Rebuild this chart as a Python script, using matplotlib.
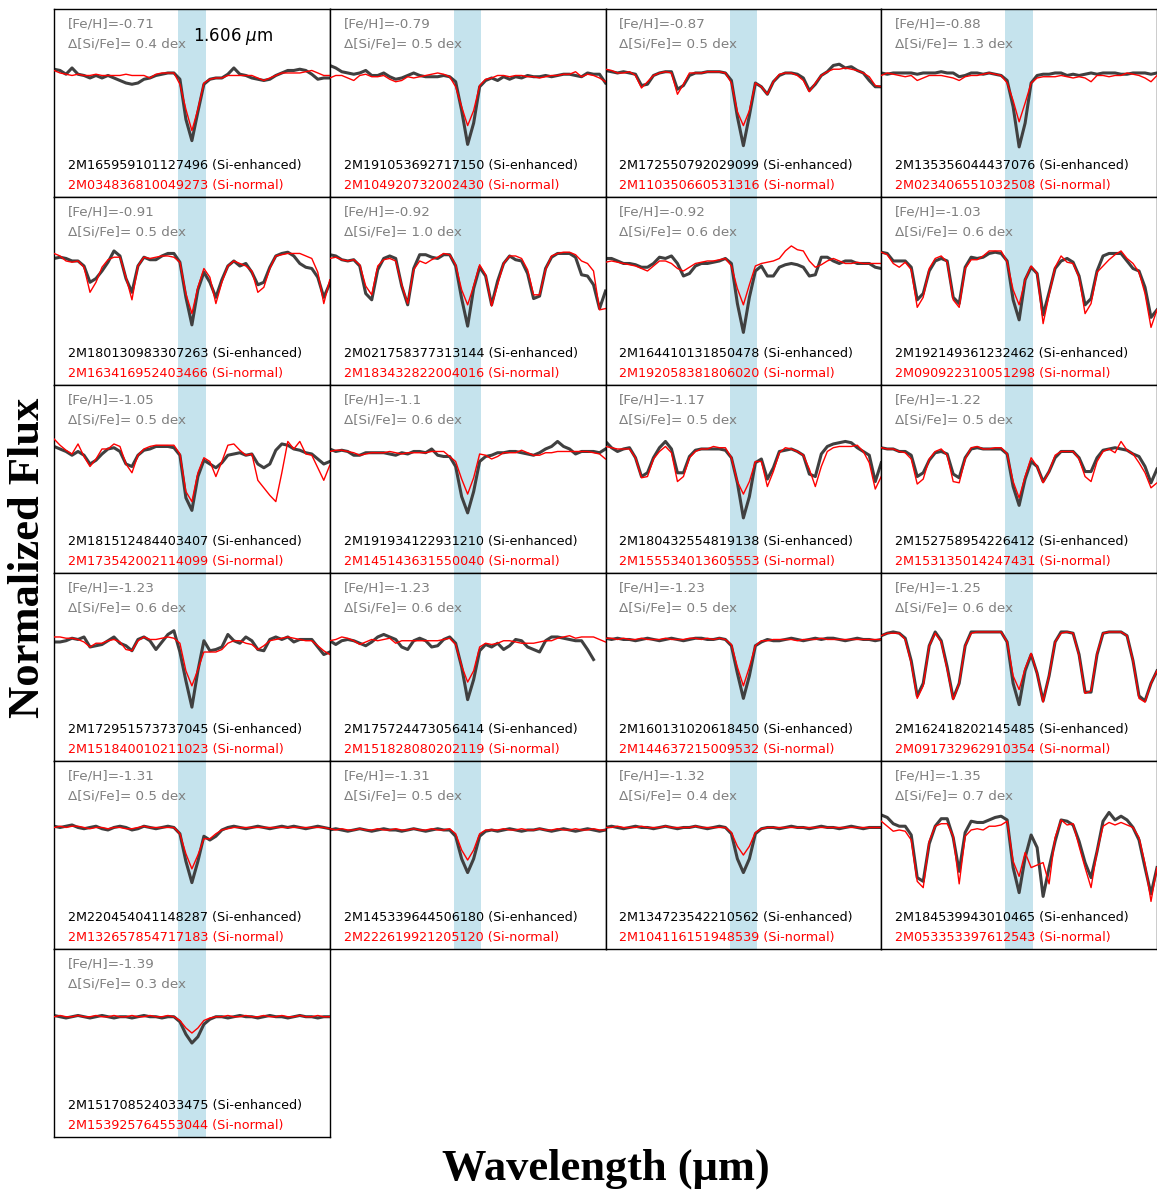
import numpy as np
import matplotlib
matplotlib.use('Agg')
import matplotlib.pyplot as plt

nan = np.nan

# wavelength grid (Angstrom) around the Si I 1.606 um line
wave = np.linspace(16040.0, 16080.0, 47)
si_band = (16058.0, 16062.0)

feh = ['-0.71', '-0.79', '-0.87', '-0.88',
       '-0.91', '-0.92', '-0.92', '-1.03',
       '-1.05', '-1.1', '-1.17', '-1.22',
       '-1.23', '-1.23', '-1.23', '-1.25',
       '-1.31', '-1.31', '-1.32', '-1.35',
       '-1.39']
dsife = ['0.4', '0.5', '0.5', '1.3',
         '0.5', '1.0', '0.6', '0.6',
         '0.5', '0.6', '0.5', '0.5',
         '0.6', '0.6', '0.5', '0.6',
         '0.5', '0.5', '0.4', '0.7',
         '0.3']
enh_ids = ['2M165959101127496', '2M191053692717150', '2M172550792029099', '2M135356044437076',
           '2M180130983307263', '2M021758377313144', '2M164410131850478', '2M192149361232462',
           '2M181512484403407', '2M191934122931210', '2M180432554819138', '2M152758954226412',
           '2M172951573737045', '2M175724473056414', '2M160131020618450', '2M162418202145485',
           '2M220454041148287', '2M145339644506180', '2M134723542210562', '2M184539943010465',
           '2M151708524033475']
norm_ids = ['2M034836810049273', '2M104920732002430', '2M110350660531316', '2M023406551032508',
            '2M163416952403466', '2M183432822004016', '2M192058381806020', '2M090922310051298',
            '2M173542002114099', '2M145143631550040', '2M155534013605553', '2M153135014247431',
            '2M151840010211023', '2M151828080202119', '2M144637215009532', '2M091732962910354',
            '2M132657854717183', '2M222619921205120', '2M104116151948539', '2M053353397612543',
            '2M153925764553044']

# normalized flux of the Si-enhanced stars
enh_flux = [
    [1.02,1.01,0.98,1.03,0.98,0.97,0.95,0.97,0.95,0.97,0.95,0.93,0.91,0.90,0.91,0.94,0.95,0.97,0.98,0.99,0.99,0.94,0.62,0.45,0.68,0.90,0.94,0.95,0.95,0.98,1.03,0.98,0.97,0.95,0.94,0.93,0.94,0.97,0.99,1.01,1.01,1.02,1.01,0.98,0.94,0.95,0.95],
    [1.05,1.03,1.0,0.99,0.98,0.99,1.01,0.97,0.97,0.99,0.96,0.94,0.95,0.97,0.99,0.97,0.96,0.96,0.96,0.97,0.96,0.92,0.69,0.42,0.59,0.88,0.93,0.95,0.93,0.96,0.94,0.96,0.95,0.97,0.96,0.96,0.97,0.96,0.97,0.98,0.98,0.97,0.96,0.99,0.98,0.98,0.91],
    [1.01,1.0,0.99,1.0,0.99,0.98,0.89,0.90,0.97,0.99,1.0,1.0,0.86,0.89,0.97,0.99,0.99,1.0,1.0,1.0,0.99,0.93,0.64,0.41,0.65,0.91,0.88,0.82,0.92,0.97,0.99,0.99,0.98,0.95,0.85,0.90,0.97,1.0,1.05,1.06,1.03,1.04,1.01,0.99,0.93,0.88,0.88],
    [0.99,0.98,0.99,0.99,0.99,0.99,0.98,0.99,0.99,0.99,1.0,0.99,0.99,0.96,0.97,0.99,0.99,0.98,0.99,0.98,0.97,0.93,0.72,0.40,0.59,0.91,0.97,0.98,0.98,0.99,0.99,0.97,0.98,0.97,0.98,0.99,0.98,0.99,0.99,0.99,0.98,0.98,0.99,0.99,0.99,0.98,0.99],
    [1.01,1.02,1.01,0.99,0.99,0.95,0.82,0.85,0.91,0.98,1.07,1.03,0.85,0.74,0.95,1.02,1.0,1.0,1.03,1.05,1.05,0.98,0.70,0.48,0.76,0.90,0.82,0.70,0.84,0.95,0.99,0.95,0.97,0.90,0.80,0.82,0.94,1.03,1.05,1.06,1.03,0.97,0.94,0.93,0.86,0.70,0.81],
    [1.04,1.03,1.0,0.99,1.0,0.95,0.73,0.68,0.92,1.01,1.03,1.01,0.79,0.64,0.93,1.04,1.04,1.02,1.01,1.04,1.04,0.95,0.69,0.47,0.77,0.94,0.87,0.64,0.83,0.97,1.03,1.0,0.99,0.89,0.69,0.71,0.93,1.02,1.05,1.05,1.05,1.02,0.88,0.87,0.80,0.61,0.75],
    [1.01,1.01,0.99,0.97,0.97,0.96,0.94,0.94,0.97,1.02,1.01,1.03,0.97,0.87,0.89,0.95,0.97,0.97,0.98,0.99,1.01,0.97,0.65,0.42,0.70,0.91,0.95,0.87,0.87,0.94,0.96,0.97,0.96,0.94,0.87,0.88,1.02,1.02,0.99,0.97,0.99,0.99,0.97,0.97,0.97,0.94,0.93],
    [1.06,1.05,0.99,0.99,0.99,0.94,0.68,0.73,0.91,0.99,1.01,0.99,0.70,0.65,0.94,1.02,1.01,1.02,1.05,1.06,1.05,0.99,0.68,0.52,0.84,0.94,0.89,0.56,0.74,0.93,0.99,1.01,0.98,0.87,0.64,0.69,0.91,1.03,1.05,1.05,1.05,0.99,0.93,0.91,0.78,0.54,0.60],
    [1.01,0.99,0.97,0.94,0.97,0.94,0.87,0.90,0.95,0.99,1.0,0.97,0.87,0.85,0.94,0.98,0.99,1.01,1.01,1.01,1.0,0.94,0.60,0.50,0.77,0.90,0.87,0.84,0.88,0.94,0.95,0.96,0.94,0.95,0.87,0.84,0.87,0.98,1.03,1.02,0.99,0.98,0.96,0.95,0.91,0.87,0.89],
    [0.99,0.97,0.98,0.97,0.94,0.94,0.96,0.96,0.96,0.96,0.95,0.94,0.96,0.95,0.97,0.97,0.96,0.99,0.94,0.93,0.93,0.85,0.61,0.48,0.65,0.89,0.93,0.94,0.96,0.96,0.97,0.97,0.96,0.95,0.94,0.96,0.99,1.01,1.05,1.01,0.99,0.95,0.97,0.97,0.97,0.96,0.99],
    [1.05,1.0,0.97,0.99,1.0,0.92,0.77,0.80,0.92,1.0,1.05,0.99,0.80,0.80,0.93,0.98,0.99,0.99,0.99,0.99,0.98,0.92,0.72,0.44,0.61,0.88,0.91,0.75,0.84,0.97,0.98,0.99,0.97,0.94,0.79,0.77,0.95,1.01,1.03,1.04,1.05,1.04,1.0,0.97,0.94,0.73,0.88],
    [1.0,0.99,0.99,0.97,0.97,0.94,0.77,0.80,0.90,0.96,0.97,0.95,0.79,0.76,0.92,0.99,1.0,0.99,0.99,0.99,0.99,0.95,0.69,0.54,0.75,0.89,0.85,0.73,0.81,0.92,0.97,0.97,0.97,0.92,0.81,0.81,0.92,0.98,0.99,1.0,0.99,0.98,0.95,0.93,0.85,0.72,0.83],
    [0.95,0.95,0.96,0.98,0.97,0.99,0.91,0.92,0.93,0.96,0.99,0.94,0.92,0.88,0.97,0.99,0.96,0.89,0.95,1.01,1.04,0.87,0.64,0.43,0.72,0.96,0.88,0.89,0.91,1.01,0.96,0.94,0.99,0.96,0.89,0.88,0.97,0.99,0.97,0.99,0.95,0.97,0.97,0.97,0.91,0.85,0.87],
    [0.96,0.93,0.96,0.97,0.96,0.94,0.92,0.95,0.99,1.01,0.99,0.97,0.91,0.89,0.96,0.98,0.96,0.91,0.92,0.97,0.99,0.94,0.75,0.49,0.65,0.88,0.93,0.91,0.94,0.89,0.92,0.97,0.96,0.91,0.89,0.87,0.96,0.99,0.99,0.98,0.97,0.96,0.96,0.89,0.81,nan,nan],
    [0.98,0.97,0.98,0.97,0.97,0.96,0.97,0.98,0.97,0.96,0.97,0.98,0.97,0.96,0.97,0.98,0.98,0.97,0.97,0.98,0.97,0.92,0.70,0.50,0.68,0.92,0.95,0.97,0.96,0.96,0.97,0.98,0.97,0.96,0.97,0.98,0.97,0.98,0.98,0.97,0.96,0.97,0.98,0.97,0.97,0.96,0.97],
    [1.0,1.02,1.03,1.02,0.98,0.80,0.52,0.62,0.92,1.03,0.96,0.75,0.50,0.62,0.92,1.03,1.03,1.03,1.03,1.03,1.03,0.95,0.62,0.45,0.72,0.85,0.70,0.48,0.68,0.95,1.03,1.03,1.02,0.85,0.55,0.55,0.85,1.02,1.03,1.03,1.03,1.0,0.80,0.52,0.48,0.62,0.72],
    [0.98,0.97,0.98,0.99,0.97,0.96,0.97,0.98,0.96,0.95,0.97,0.98,0.97,0.95,0.96,0.98,0.97,0.96,0.97,0.98,0.97,0.92,0.70,0.53,0.70,0.90,0.87,0.90,0.95,0.97,0.98,0.97,0.96,0.97,0.98,0.97,0.96,0.97,0.98,0.97,0.98,0.97,0.96,0.97,0.98,0.97,0.96],
    [0.95,0.96,0.95,0.94,0.95,0.96,0.95,0.94,0.95,0.96,0.95,0.95,0.94,0.95,0.96,0.95,0.94,0.95,0.96,0.95,0.95,0.90,0.72,0.61,0.72,0.90,0.94,0.95,0.94,0.95,0.96,0.95,0.94,0.95,0.95,0.96,0.95,0.94,0.95,0.96,0.95,0.94,0.95,0.96,0.95,0.94,0.95],
    [0.97,0.98,0.97,0.96,0.97,0.98,0.97,0.97,0.96,0.97,0.98,0.97,0.96,0.97,0.97,0.98,0.97,0.96,0.97,0.98,0.97,0.92,0.72,0.61,0.72,0.92,0.96,0.97,0.97,0.96,0.97,0.98,0.97,0.97,0.96,0.97,0.98,0.97,0.97,0.96,0.97,0.98,0.97,0.96,0.97,0.97,0.97],
    [1.07,1.05,1.0,0.98,0.98,0.91,0.57,0.54,0.84,0.98,1.04,1.04,0.89,0.62,0.93,1.02,1.01,1.01,1.03,1.05,1.06,1.03,0.65,0.45,0.73,0.91,0.81,0.42,0.65,0.86,1.03,1.02,0.99,0.86,0.69,0.57,0.78,1.02,1.09,1.03,1.06,1.03,0.97,0.87,0.65,0.44,0.65],
    [0.97,0.96,0.95,0.96,0.97,0.96,0.95,0.96,0.97,0.96,0.95,0.96,0.96,0.95,0.96,0.97,0.96,0.96,0.95,0.96,0.96,0.92,0.82,0.75,0.80,0.90,0.94,0.96,0.96,0.95,0.96,0.97,0.96,0.96,0.95,0.96,0.97,0.96,0.96,0.95,0.96,0.97,0.96,0.96,0.95,0.96,0.96],
]

# normalized flux of the Si-normal comparison stars
norm_flux = [
    [1.01,0.99,0.98,0.97,0.98,0.97,0.97,0.98,0.97,0.97,0.97,0.97,0.98,0.97,0.97,0.97,0.95,0.98,0.99,0.99,0.99,0.90,0.70,0.53,0.70,0.91,0.94,0.95,0.95,0.97,0.97,0.97,0.97,0.97,0.95,0.93,0.95,0.97,0.99,0.99,0.99,0.99,1.0,1.01,0.99,0.97,0.97],
    [0.95,0.97,0.97,0.95,0.93,0.97,0.98,0.96,0.96,0.97,0.94,0.92,0.93,0.96,0.95,0.96,0.97,0.98,0.99,0.98,0.96,0.88,0.72,0.57,0.69,0.89,0.94,0.95,0.97,0.97,0.96,0.97,0.97,0.96,0.96,0.95,0.96,0.97,0.97,0.98,0.98,1.0,0.96,0.98,0.97,0.95,0.92],
    [1.02,1.01,0.99,0.99,1.0,0.97,0.87,0.92,0.97,0.99,1.0,0.99,0.82,0.90,0.99,0.99,0.99,1.0,1.0,1.0,0.99,0.91,0.68,0.57,0.69,0.91,0.88,0.82,0.92,0.98,0.99,0.99,0.97,0.93,0.84,0.91,0.97,1.0,1.02,1.02,1.03,1.02,1.01,0.99,0.96,0.89,0.88],
    [0.97,0.99,0.98,0.97,0.96,0.97,0.93,0.95,0.97,0.97,0.97,0.96,0.95,0.93,0.96,0.97,0.97,0.98,0.99,0.98,0.97,0.91,0.77,0.60,0.75,0.91,0.95,0.96,0.96,0.96,0.97,0.96,0.95,0.96,0.95,0.92,0.97,0.97,0.96,0.97,0.97,0.99,0.98,0.97,0.95,0.92,0.97],
    [1.05,1.03,0.99,0.98,0.99,0.94,0.74,0.82,0.94,1.0,1.02,1.02,0.86,0.68,0.95,1.02,1.01,1.02,1.03,1.03,1.02,0.98,0.73,0.57,0.78,0.93,0.86,0.65,0.82,0.95,0.99,0.97,0.95,0.91,0.74,0.78,0.93,1.03,1.04,1.05,1.05,1.05,1.03,1.01,0.90,0.65,0.84],
    [1.01,1.02,1.0,0.99,1.0,0.96,0.79,0.72,0.95,1.0,1.01,0.99,0.80,0.65,0.92,0.99,0.97,1.0,1.02,1.05,1.04,0.96,0.76,0.64,0.79,0.96,0.88,0.63,0.80,0.97,1.03,1.03,1.01,0.92,0.72,0.72,0.92,1.03,1.05,1.06,1.06,1.04,0.99,0.97,0.91,0.60,0.61],
    [0.98,0.99,0.98,0.97,0.96,0.95,0.93,0.91,0.95,0.99,0.99,0.97,0.93,0.91,0.94,0.97,0.98,0.99,0.99,1.0,1.01,0.95,0.77,0.64,0.80,0.95,0.97,0.98,0.99,1.01,1.07,1.11,1.08,1.07,0.99,0.94,0.96,0.99,1.01,0.99,0.97,0.97,0.98,0.97,0.97,0.97,0.97],
    [1.06,1.04,0.97,0.94,0.98,0.92,0.62,0.70,0.93,1.01,1.03,0.98,0.68,0.62,0.93,1.0,1.0,1.03,1.07,1.07,1.07,0.98,0.76,0.64,0.84,0.95,0.89,0.49,0.72,0.94,1.03,0.98,0.97,0.86,0.57,0.65,0.90,0.95,1.0,1.04,1.07,1.01,0.97,0.90,0.73,0.46,0.60],
    [1.07,1.02,0.98,0.95,1.03,0.93,0.85,0.91,0.99,0.99,1.03,1.01,0.87,0.80,0.94,0.99,1.01,1.02,1.02,1.02,1.02,0.95,0.65,0.57,0.80,0.92,0.89,0.77,0.89,1.02,1.03,0.98,0.94,0.95,0.74,0.68,0.62,0.57,0.80,1.05,0.99,1.05,0.95,0.94,0.84,0.74,0.86],
    [0.97,0.98,0.98,0.97,0.96,0.94,0.95,0.96,0.96,0.96,0.97,0.96,0.95,0.96,0.96,0.96,0.96,0.97,0.97,0.97,0.93,0.89,0.75,0.63,0.76,0.95,0.94,0.91,0.93,0.96,0.96,0.96,0.98,0.96,0.94,0.94,0.96,0.96,0.97,0.97,0.97,0.97,0.97,0.97,0.96,0.95,0.91],
    [1.01,1.0,0.99,0.99,0.99,0.92,0.76,0.77,0.91,0.97,1.01,0.96,0.73,0.77,0.92,0.97,0.99,0.99,1.01,1.0,1.0,0.92,0.73,0.63,0.73,0.89,0.89,0.69,0.81,0.96,1.0,0.99,0.97,0.94,0.83,0.69,0.85,0.97,1.0,1.01,1.01,1.01,1.02,0.97,0.88,0.67,0.77],
    [1.0,0.99,0.99,0.97,0.96,0.91,0.71,0.75,0.91,0.97,0.99,0.94,0.73,0.72,0.91,1.0,1.01,0.99,0.99,1.0,1.0,0.95,0.73,0.60,0.77,0.92,0.85,0.72,0.81,0.94,0.97,0.97,0.97,0.91,0.77,0.73,0.89,0.97,0.99,0.96,1.05,0.98,0.95,0.88,0.80,0.68,0.72],
    [0.99,0.99,0.98,0.98,0.97,0.95,0.91,0.94,0.94,0.96,0.97,0.95,0.89,0.88,0.96,0.99,0.97,0.97,0.98,0.99,0.98,0.94,0.72,0.60,0.73,0.87,0.87,0.87,0.89,0.94,0.96,0.96,0.94,0.93,0.89,0.92,0.96,0.97,0.98,0.99,0.98,0.97,0.96,0.96,0.92,0.88,0.85],
    [0.96,0.97,0.99,0.98,0.96,0.93,0.95,0.97,0.96,0.97,0.98,0.94,0.96,0.96,0.96,0.96,0.96,0.96,0.96,0.97,0.98,0.93,0.76,0.63,0.72,0.91,0.94,0.93,0.94,0.96,0.96,0.95,0.94,0.94,0.94,0.95,0.96,0.96,0.98,0.99,1.0,0.98,0.99,0.99,0.99,0.97,0.95],
    [0.98,0.98,0.97,0.98,0.97,0.97,0.98,0.97,0.97,0.97,0.98,0.97,0.97,0.97,0.98,0.98,0.97,0.98,0.97,0.98,0.97,0.93,0.75,0.60,0.75,0.92,0.96,0.96,0.97,0.97,0.97,0.97,0.96,0.97,0.97,0.97,0.98,0.97,0.97,0.97,0.97,0.97,0.97,0.97,0.97,0.97,0.97],
    [1.0,1.02,1.02,1.02,0.97,0.78,0.50,0.60,0.92,1.02,0.95,0.73,0.49,0.62,0.92,1.02,1.03,1.03,1.03,1.03,1.03,0.95,0.68,0.57,0.74,0.86,0.70,0.47,0.68,0.95,1.02,1.03,1.02,0.84,0.54,0.56,0.86,1.02,1.03,1.03,1.03,1.0,0.80,0.50,0.47,0.62,0.72],
    [0.97,0.98,0.97,0.98,0.98,0.97,0.96,0.97,0.97,0.96,0.97,0.97,0.96,0.96,0.97,0.98,0.97,0.97,0.97,0.97,0.97,0.92,0.76,0.64,0.75,0.88,0.88,0.92,0.95,0.96,0.97,0.97,0.97,0.97,0.97,0.97,0.97,0.97,0.97,0.97,0.97,0.97,0.97,0.97,0.97,0.97,0.96],
    [0.96,0.95,0.96,0.95,0.95,0.96,0.95,0.95,0.96,0.95,0.95,0.96,0.95,0.95,0.96,0.95,0.95,0.96,0.95,0.95,0.96,0.92,0.79,0.71,0.79,0.92,0.95,0.95,0.95,0.96,0.95,0.95,0.96,0.95,0.95,0.96,0.95,0.95,0.96,0.95,0.95,0.96,0.95,0.95,0.96,0.95,0.95],
    [0.97,0.97,0.98,0.97,0.97,0.97,0.98,0.97,0.97,0.97,0.98,0.97,0.97,0.97,0.97,0.98,0.97,0.97,0.97,0.97,0.97,0.93,0.82,0.75,0.82,0.93,0.96,0.97,0.97,0.97,0.97,0.97,0.97,0.97,0.97,0.97,0.97,0.97,0.97,0.97,0.97,0.97,0.97,0.97,0.97,0.97,0.97],
    [1.02,0.98,0.94,0.95,0.94,0.87,0.54,0.49,0.86,0.98,1.0,1.0,0.90,0.52,0.90,0.95,0.96,0.95,0.98,0.98,0.99,1.02,0.70,0.58,0.77,0.65,0.67,0.69,0.52,0.89,1.03,0.99,1.0,0.82,0.65,0.49,0.78,0.98,1.01,0.99,1.01,0.99,0.97,0.89,0.68,0.38,0.65],
    [0.96,0.97,0.96,0.96,0.97,0.96,0.96,0.97,0.96,0.96,0.97,0.96,0.96,0.97,0.96,0.96,0.97,0.96,0.96,0.97,0.96,0.93,0.87,0.83,0.87,0.93,0.95,0.96,0.96,0.97,0.96,0.96,0.97,0.96,0.96,0.97,0.96,0.96,0.97,0.96,0.96,0.97,0.96,0.96,0.97,0.96,0.96],
]

fig = plt.figure(figsize=(11.57, 11.91), dpi=100)
gs = fig.add_gridspec(6, 4, left=0.0467, right=1.0, top=0.9924, bottom=0.0453,
                      wspace=0, hspace=0)

for k in range(24):
    ax = fig.add_subplot(gs[k // 4, k % 4])
    if k >= len(feh):
        ax.axis('off')
        continue
    ax.axvspan(si_band[0], si_band[1], color='lightblue', alpha=0.7, lw=0, zorder=0)
    ax.plot(wave, enh_flux[k], color='#404040', lw=2.2, zorder=2)
    ax.plot(wave, norm_flux[k], color='red', lw=1.0, zorder=3)
    ax.set_xlim(wave[0], wave[-1])
    ax.set_ylim(0.0, 1.5)
    ax.set_xticks([])
    ax.set_yticks([])
    for s in ax.spines.values():
        s.set_linewidth(1.0)
    ax.text(0.05, 0.92, '[Fe/H]=' + feh[k], transform=ax.transAxes,
            color='gray', fontsize=9.7, va='center', ha='left')
    ax.text(0.05, 0.814, '\u0394[Si/Fe]= ' + dsife[k] + ' dex', transform=ax.transAxes,
            color='gray', fontsize=9.7, va='center', ha='left')
    ax.text(0.05, 0.17, enh_ids[k] + ' (Si-enhanced)', transform=ax.transAxes,
            color='black', fontsize=9.2, va='center', ha='left', zorder=5)
    ax.text(0.05, 0.059, norm_ids[k] + ' (Si-normal)', transform=ax.transAxes,
            color='red', fontsize=9.2, va='center', ha='left', zorder=5)
    if k == 0:
        ax.text(0.65, 0.856, r'1.606 $\mu$m', transform=ax.transAxes,
                color='black', fontsize=12, va='center', ha='center')

fig.text(0.0245, 0.532, 'Normalized Flux', rotation=90, ha='center', va='center',
         fontsize=32, fontweight='bold', family='Liberation Serif')
fig.text(0.524, 0.019, 'Wavelength (\u03bcm)', ha='center', va='center',
         fontsize=32, fontweight='bold', family='Liberation Serif')

fig.savefig('out.png', dpi=100)
